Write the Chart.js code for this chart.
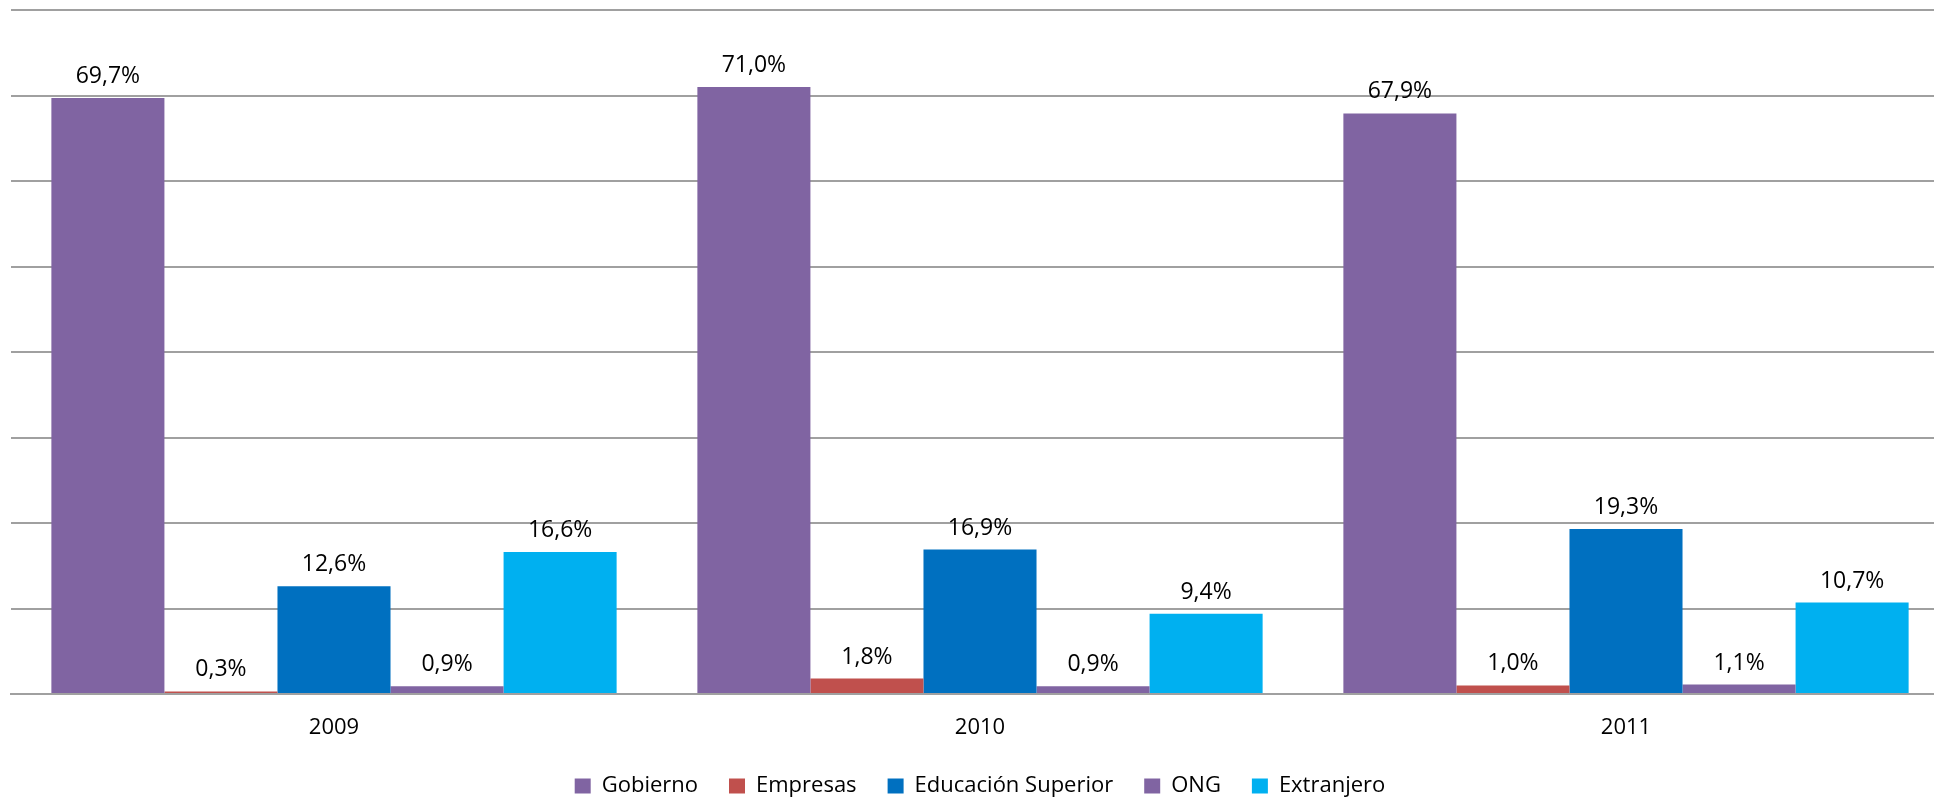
<!DOCTYPE html>
<html>
<head>
<meta charset="utf-8">
<script src="https://cdn.jsdelivr.net/npm/chart.js@4/dist/chart.umd.min.js"></script>
<style>
  body { margin: 0; background: #fff; overflow: hidden; }
  #wrap { width: 1934px; height: 800px; overflow: hidden; }
</style>
</head>
<body>
<div id="wrap"><canvas id="myChart" width="1949" height="807"></canvas></div>
<script>
let years = [ '2009', '2010', '2011' ];
let gobierno = [ 69.7, 71.0, 67.9 ];
let empresas = [ 0.3, 1.8, 1.0 ];
let educacion = [ 12.6, 16.9, 19.3 ];
let ong = [ 0.9, 0.9, 1.1 ];
let extranjero = [ 16.6, 9.4, 10.7 ];

// etiquetas encima de cada barra (formato 69,7%)
let barLabels = {
	id : 'barLabels',
	afterDatasetsDraw(chart) {
		let ctx = chart.ctx;
		ctx.save();
		ctx.font = '23px "Open Sans"';
		ctx.fillStyle = '#000';
		ctx.textAlign = 'center';
		ctx.textBaseline = 'alphabetic';
		chart.data.datasets.forEach(function(ds, i) {
			chart.getDatasetMeta(i).data.forEach(function(bar, j) {
				let txt = ds.data[j].toFixed(1).replace('.', ',') + '%';
				ctx.fillText(txt, bar.x, bar.y - 15);
			});
		});
		ctx.restore();
	}
};

Chart.defaults.font.family = '"Open Sans", sans-serif';
Chart.defaults.font.size = 22;
Chart.defaults.color = '#000';

let myChart = new Chart(document.getElementById('myChart').getContext('2d'), {
	type : 'bar',
	data : {
		labels : years,
		datasets : [
			{ label : 'Gobierno', data : gobierno, backgroundColor : '#8064A2' },
			{ label : 'Empresas', data : empresas, backgroundColor : '#C0504D' },
			{ label : 'Educación Superior', data : educacion, backgroundColor : '#0070C0' },
			{ label : 'ONG', data : ong, backgroundColor : '#8064A2' },
			{ label : 'Extranjero', data : extranjero, backgroundColor : '#00B0F0' }
		]
	},
	options : {
		responsive : false,
		animation : false,
		datasets : {
			bar : { categoryPercentage : 0.875, barPercentage : 1.0 }
		},
		layout : {
			padding : { left : 11, right : 0, top : 10, bottom : 0 }
		},
		scales : {
			x : {
				grid : { display : false },
				border : { color : '#a0a0a0', width : 2 },
				ticks : { padding : 13 },
				afterFit : function(scale) { scale.height = 50; }
			},
			y : {
				min : 0,
				max : 80,
				ticks : { display : false, stepSize : 10 },
				grid : { color : '#a0a0a0', lineWidth : 2, drawTicks : false },
				border : { display : false }
			}
		},
		plugins : {
			legend : {
				position : 'bottom',
				labels : { boxWidth : 16, boxHeight : 15, padding : 31 }
			},
			tooltip : { enabled : false }
		}
	},
	plugins : [ barLabels ]
});
</script>
</body>
</html>
